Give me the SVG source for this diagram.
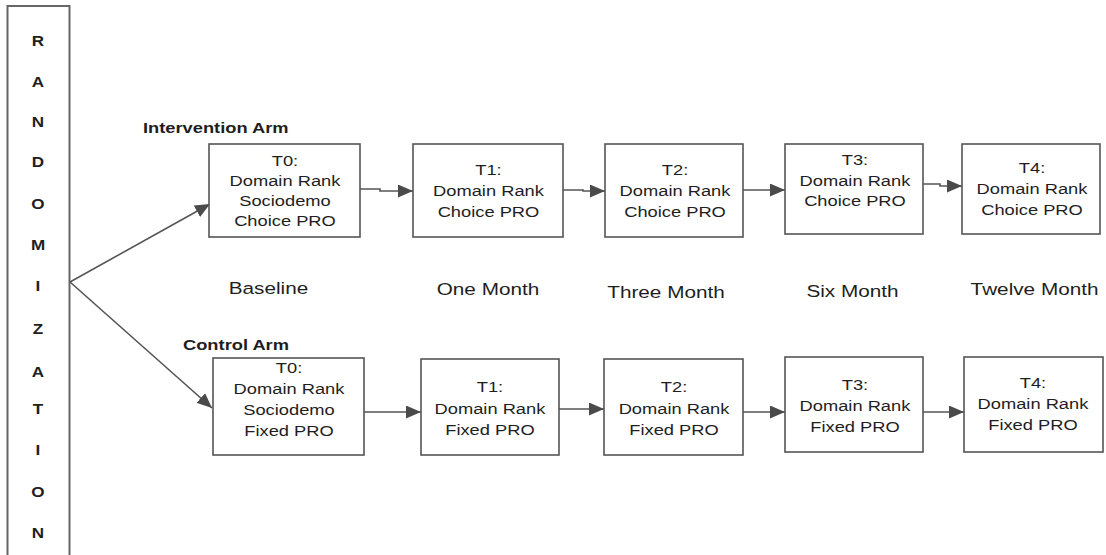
<svg xmlns="http://www.w3.org/2000/svg" width="1106" height="555" viewBox="0 0 1106 555">
<style>
text { font-family: "Liberation Sans", Arial, sans-serif; fill: #1e1e1e; }
.box { fill: #ffffff; stroke: #555555; stroke-width: 1.6; }
.rbox { fill: #ffffff; stroke: #666666; stroke-width: 2; }
.b { font-size: 15px; text-anchor: middle; }
.tl { font-size: 17px; text-anchor: middle; }
.arm { font-size: 15px; font-weight: bold; }
.let { font-size: 14px; font-weight: bold; text-anchor: middle; }
.con { fill: none; stroke: #555555; stroke-width: 1.6; marker-end: url(#ah); }
</style>
<defs>
<marker id="ah" markerUnits="userSpaceOnUse" markerWidth="16" markerHeight="13" refX="15" refY="6.5" orient="auto">
<path d="M0,0 L15,6.5 L0,13 z" fill="#4a4a4a"/>
</marker>
</defs>
<rect width="1106" height="555" fill="#ffffff"/>

<g id="randomization">
<rect class="rbox" x="7.5" y="6" width="62" height="570"/>
<g transform="scale(1.22 1)">
<text class="let" x="31.15" y="46">R</text>
<text class="let" x="31.15" y="87">A</text>
<text class="let" x="31.15" y="127">N</text>
<text class="let" x="31.15" y="167">D</text>
<text class="let" x="31.15" y="209">O</text>
<text class="let" x="31.15" y="250">M</text>
<text class="let" x="31.15" y="291">I</text>
<text class="let" x="31.15" y="334">Z</text>
<text class="let" x="31.15" y="377">A</text>
<text class="let" x="31.15" y="414">T</text>
<text class="let" x="31.15" y="455">I</text>
<text class="let" x="31.15" y="497">O</text>
<text class="let" x="31.15" y="538">N</text>
</g>
</g>

<g id="labels" transform="scale(1.22 1)">
<text class="arm" x="117.2" y="133">Intervention Arm</text>
<text class="arm" x="150" y="350">Control Arm</text>
<text class="tl" x="220.1" y="294">Baseline</text>
<text class="tl" x="400" y="295">One Month</text>
<text class="tl" x="545.9" y="298">Three Month</text>
<text class="tl" x="698.8" y="297">Six Month</text>
<text class="tl" x="848" y="295">Twelve Month</text>
</g>

<g id="connectors">
<path class="con" d="M70,282 L210,204"/>
<path class="con" d="M70,282 L212,408"/>
<path class="con" d="M360,189 H380 V191 H413"/>
<path class="con" d="M563,190 H583 V191 H605"/>
<path class="con" d="M743,190 H785"/>
<path class="con" d="M923,184 H940 V186 H962"/>
<path class="con" d="M364,412 H421"/>
<path class="con" d="M559,409 H604"/>
<path class="con" d="M743,412 H785"/>
<path class="con" d="M923,412 H964"/>
</g>

<g id="int-t0">
<rect class="box" x="209" y="144" width="151" height="93"/>
<g transform="scale(1.22 1)">
<text class="b" x="233.6" y="166">T0:</text>
<text class="b" x="233.6" y="186">Domain Rank</text>
<text class="b" x="233.6" y="206">Sociodemo</text>
<text class="b" x="233.6" y="226">Choice PRO</text>
</g>
</g>
<g id="int-t1">
<rect class="box" x="413" y="144" width="150" height="93"/>
<g transform="scale(1.22 1)">
<text class="b" x="400.4" y="175">T1:</text>
<text class="b" x="400.4" y="196">Domain Rank</text>
<text class="b" x="400.4" y="217">Choice PRO</text>
</g>
</g>
<g id="int-t2">
<rect class="box" x="605" y="144" width="138" height="93"/>
<g transform="scale(1.22 1)">
<text class="b" x="553.3" y="175">T2:</text>
<text class="b" x="553.3" y="196">Domain Rank</text>
<text class="b" x="553.3" y="217">Choice PRO</text>
</g>
</g>
<g id="int-t3">
<rect class="box" x="785" y="144" width="138" height="90"/>
<g transform="scale(1.22 1)">
<text class="b" x="700.8" y="165">T3:</text>
<text class="b" x="700.8" y="186">Domain Rank</text>
<text class="b" x="700.8" y="206">Choice PRO</text>
</g>
</g>
<g id="int-t4">
<rect class="box" x="962" y="144" width="138" height="90"/>
<g transform="scale(1.22 1)">
<text class="b" x="845.9" y="173">T4:</text>
<text class="b" x="845.9" y="194">Domain Rank</text>
<text class="b" x="845.9" y="215">Choice PRO</text>
</g>
</g>

<g id="ctl-t0">
<rect class="box" x="213" y="358" width="151" height="97"/>
<g transform="scale(1.22 1)">
<text class="b" x="236.9" y="373">T0:</text>
<text class="b" x="236.9" y="394">Domain Rank</text>
<text class="b" x="236.9" y="415">Sociodemo</text>
<text class="b" x="236.9" y="436">Fixed PRO</text>
</g>
</g>
<g id="ctl-t1">
<rect class="box" x="421" y="359" width="138" height="96"/>
<g transform="scale(1.22 1)">
<text class="b" x="401.6" y="392">T1:</text>
<text class="b" x="401.6" y="414">Domain Rank</text>
<text class="b" x="401.6" y="435">Fixed PRO</text>
</g>
</g>
<g id="ctl-t2">
<rect class="box" x="604" y="359" width="139" height="96"/>
<g transform="scale(1.22 1)">
<text class="b" x="552.5" y="392">T2:</text>
<text class="b" x="552.5" y="414">Domain Rank</text>
<text class="b" x="552.5" y="435">Fixed PRO</text>
</g>
</g>
<g id="ctl-t3">
<rect class="box" x="785" y="357" width="138" height="95"/>
<g transform="scale(1.22 1)">
<text class="b" x="700.8" y="390">T3:</text>
<text class="b" x="700.8" y="411">Domain Rank</text>
<text class="b" x="700.8" y="432">Fixed PRO</text>
</g>
</g>
<g id="ctl-t4">
<rect class="box" x="964" y="357" width="139" height="95"/>
<g transform="scale(1.22 1)">
<text class="b" x="846.7" y="388">T4:</text>
<text class="b" x="846.7" y="409">Domain Rank</text>
<text class="b" x="846.7" y="430">Fixed PRO</text>
</g>
</g>
</svg>
